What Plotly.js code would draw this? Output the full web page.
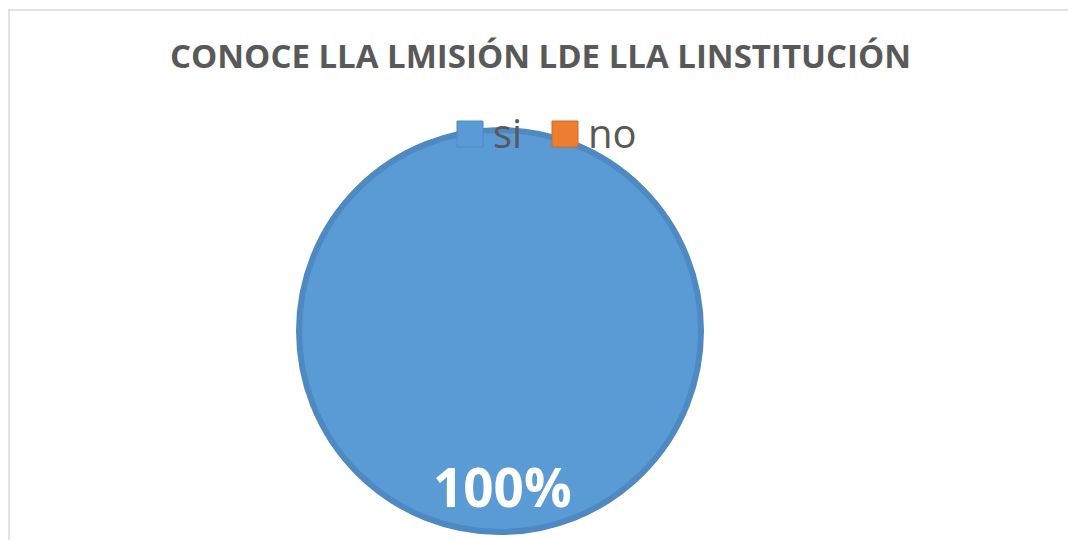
<!DOCTYPE html>
<html>
<head>
<meta charset="utf-8">
<script src="https://cdn.plot.ly/plotly-3.0.1.min.js"></script>
<style>
  html, body { margin: 0; padding: 0; background: #ffffff; }
  #chart { width: 1068px; height: 540px; }
</style>
</head>
<body>
<div id="chart"></div>
<script>
const chartTitle = 'CONOCE LLA LMISIÓN LDE LLA LINSTITUCIÓN';
const labels = ['si', 'no'];
const values = [100, 0];
const colors = ['#5B9BD5', '#ED7D31'];
const lineColors = ['#4F89C2', '#D06A28'];

const W = 1068, H = 540;
const total = values.reduce((a, b) => a + b, 0);
const pctText = Math.round(values[0] / total * 100) + '%';

// only slices with a value are drawn (a zero slice would add a radial edge)
const shown = labels.map((l, i) => i).filter(i => values[i] > 0);

const trace = {
  type: 'pie',
  labels: shown.map(i => labels[i]),
  values: shown.map(i => values[i]),
  sort: false,
  direction: 'clockwise',
  rotation: 0,
  marker: { colors: shown.map(i => colors[i]), line: { color: '#4F89C2', width: 6 } },
  textinfo: 'none',
  hoverinfo: 'label+percent',
  showlegend: false,
  domain: { x: [299 / W, 701 / W], y: [1 - 532 / H, 1 - 130 / H] }
};

const annotations = [
  { text: chartTitle, xref: 'paper', yref: 'paper', x: 540 / W, y: 1 - 55 / H,
    xanchor: 'center', yanchor: 'middle', showarrow: false,
    font: { family: 'Open Sans, sans-serif', size: 33, color: '#595959', weight: 'bold' } },
  { text: pctText, xref: 'paper', yref: 'paper', x: 502 / W, y: 1 - 486 / H,
    xanchor: 'center', yanchor: 'middle', showarrow: false,
    font: { family: 'Open Sans, sans-serif', size: 53, color: '#ffffff', weight: 'bold' } }
];

const legendX = [457, 552];
const shapes = [
  { type: 'rect', xref: 'paper', yref: 'paper', x0: 9 / W, x1: 1.02, y0: -0.02, y1: 1 - 10 / H,
    line: { color: '#D9D9D9', width: 1.5 }, fillcolor: 'rgba(0,0,0,0)', layer: 'below' }
];
labels.forEach((lab, i) => {
  shapes.push({ type: 'rect', xref: 'paper', yref: 'paper',
    x0: legendX[i] / W, x1: (legendX[i] + 26) / W, y0: 1 - 147 / H, y1: 1 - 121 / H,
    fillcolor: colors[i], line: { color: lineColors[i], width: 1 } });
  annotations.push({ text: lab, xref: 'paper', yref: 'paper', x: (legendX[i] + 34) / W, y: 1 - 133 / H,
    xanchor: 'left', yanchor: 'middle', showarrow: false,
    font: { family: 'Open Sans, sans-serif', size: 40, color: '#595959' } });
});

const layout = {
  width: W, height: H,
  margin: { l: 0, r: 0, t: 0, b: 0 },
  paper_bgcolor: '#ffffff',
  showlegend: false,
  annotations: annotations,
  shapes: shapes
};

Plotly.newPlot('chart', [trace], layout, { displayModeBar: false, staticPlot: true });
</script>
</body>
</html>
